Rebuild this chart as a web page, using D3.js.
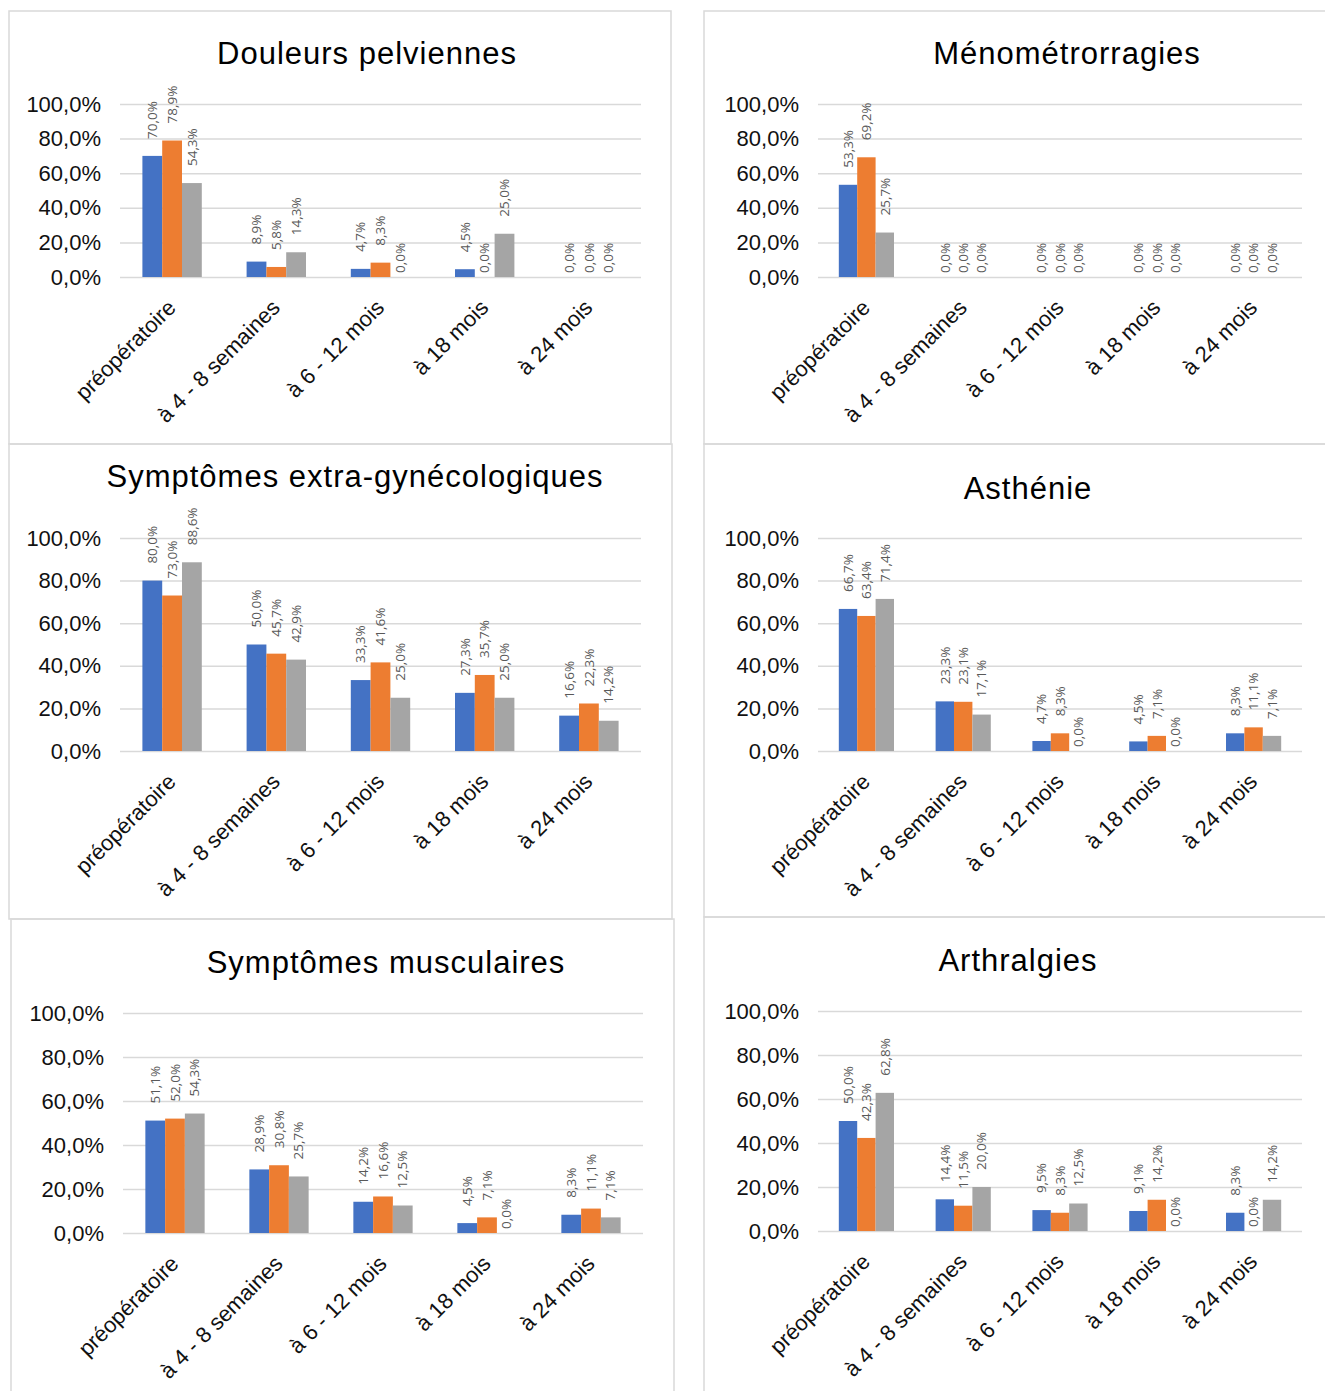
<!DOCTYPE html>
<html>
<head>
<meta charset="utf-8">
<script src="https://cdn.jsdelivr.net/npm/d3@7"></script>
<style>
  body { margin: 0; background: #fff; }
  svg { display: block; }
</style>
</head>
<body>
<div class="chart"></div>
<script>
"use strict";
(function(){

var categories = ["préopératoire", "à 4 - 8 semaines", "à 6 - 12 mois", "à 18 mois", "à 24 mois"];
var yTickValues = [0, 20, 40, 60, 80, 100];
var seriesColors = ["#4472c4", "#ed7d31", "#a5a5a5"];

var titles = [
  "Douleurs pelviennes",
  "Ménométrorragies",
  "Symptômes extra-gynécologiques",
  "Asthénie",
  "Symptômes musculaires",
  "Arthralgies"
];

// three series per chart, one value per category (%)
var douleursPelviennes = [
  [70.0, 8.9, 4.7, 4.5, 0.0],
  [78.9, 5.8, 8.3, 0.0, 0.0],
  [54.3, 14.3, 0.0, 25.0, 0.0]
];
var menometrorragies = [
  [53.3, 0.0, 0.0, 0.0, 0.0],
  [69.2, 0.0, 0.0, 0.0, 0.0],
  [25.7, 0.0, 0.0, 0.0, 0.0]
];
var extraGyneco = [
  [80.0, 50.0, 33.3, 27.3, 16.6],
  [73.0, 45.7, 41.6, 35.7, 22.3],
  [88.6, 42.9, 25.0, 25.0, 14.2]
];
var asthenie = [
  [66.7, 23.3, 4.7, 4.5, 8.3],
  [63.4, 23.1, 8.3, 7.1, 11.1],
  [71.4, 17.1, 0.0, 0.0, 7.1]
];
var musculaires = [
  [51.1, 28.9, 14.2, 4.5, 8.3],
  [52.0, 30.8, 16.6, 7.1, 11.1],
  [54.3, 25.7, 12.5, 0.0, 7.1]
];
var arthralgies = [
  [50.0, 14.4, 9.5, 9.1, 8.3],
  [42.3, 11.5, 8.3, 14.2, 0.0],
  [62.8, 20.0, 12.5, 0.0, 14.2]
];

var panelValues = [douleursPelviennes, menometrorragies, extraGyneco, asthenie, musculaires, arthralgies];

// frame [x0,y0,x1,y1], plot [left,right,top,bottom], title [cx, baseline]
var layout = [
  {frame: [9, 11, 671, 444],    plot: [120, 641, 104, 277],   title: [367, 64]},
  {frame: [704, 11, 1340, 444], plot: [818, 1302, 104, 277],  title: [1067, 64]},
  {frame: [9, 444, 672, 919],   plot: [120, 641, 538, 751],   title: [355, 487]},
  {frame: [704, 444, 1340, 917],plot: [818, 1302, 538, 751],  title: [1028, 499]},
  {frame: [11, 919, 674, 1400], plot: [123, 643, 1013, 1233], title: [386, 973]},
  {frame: [704, 917, 1340, 1400],plot: [818, 1302, 1011, 1231],title: [1018, 971]}
];

var width = 1325;
var height = 1391;

var svg = d3.select('.chart')
            .append('svg')
            .attr('width', width)
            .attr('height', height);

svg.append('rect').attr('width', width).attr('height', height).attr('fill', '#fff');

function pct(v){
  return d3.format('.1f')(v).replace('.', ',') + '%';
}

function drawPanel(cfg, title, values){
  var g = svg.append('g');
  var f = cfg.frame, p = cfg.plot;

  g.append('rect')
   .attr('x', f[0]).attr('y', f[1])
   .attr('width', f[2] - f[0]).attr('height', f[3] - f[1])
   .attr('fill', 'none')
   .attr('stroke', '#d9d9d9')
   .attr('stroke-width', 1.5);

  g.append('text')
   .attr('x', cfg.title[0]).attr('y', cfg.title[1])
   .attr('text-anchor', 'middle')
   .attr('font-family', 'Liberation Sans, Arial, sans-serif')
   .attr('font-size', 31)
   .attr('letter-spacing', '1px')
   .attr('fill', '#000')
   .text(title);

  var x = d3.scaleBand().domain(categories).range([p[0], p[1]])
            .paddingInner(0.43).paddingOuter(0.215);
  var xs = d3.scaleBand().domain(d3.range(values.length)).range([0, x.bandwidth()]);
  var y = d3.scaleLinear().domain([0, 100]).range([p[3], p[2]]);

  // y axis + gridlines
  var yAxis = g.append('g')
    .attr('transform', 'translate(' + p[0] + ',0)')
    .call(d3.axisLeft(y).tickValues(yTickValues)
            .tickSize(-(p[1] - p[0])).tickPadding(19)
            .tickFormat(function(d){ return d3.format('.1f')(d).replace('.', ',') + '%'; }));
  yAxis.select('.domain').remove();
  yAxis.selectAll('.tick line').attr('stroke', '#d9d9d9').attr('stroke-width', 1.5);
  yAxis.selectAll('.tick text')
       .attr('font-family', 'Liberation Sans, Arial, sans-serif')
       .attr('font-size', 22)
       .attr('fill', '#111');

  // x axis labels
  var xAxis = g.append('g')
    .attr('transform', 'translate(0,' + p[3] + ')')
    .call(d3.axisBottom(x).tickSize(0));
  xAxis.select('.domain').remove();
  xAxis.selectAll('.tick text')
       .attr('x', 0).attr('y', 0).attr('dy', 0)
       .attr('text-anchor', 'end')
       .attr('transform', 'translate(5,32) rotate(-45)')
       .attr('font-family', 'Liberation Sans, Arial, sans-serif')
       .attr('font-size', 22)
       .attr('fill', '#111');

  var flat = [];
  values.forEach(function(series, s){
    series.forEach(function(v, i){
      flat.push({s: s, cat: categories[i], v: v});
    });
  });

  g.selectAll('.bar')
   .data(flat)
   .enter().append('rect')
   .attr('class', 'bar')
   .attr('x', function(d){ return x(d.cat) + xs(d.s); })
   .attr('width', xs.bandwidth())
   .attr('y', function(d){ return y(d.v); })
   .attr('height', function(d){ return y(0) - y(d.v); })
   .attr('fill', function(d){ return seriesColors[d.s]; });

  g.selectAll('.lbl')
   .data(flat)
   .enter().append('text')
   .attr('class', 'lbl')
   .attr('transform', function(d){
     var cx = x(d.cat) + xs(d.s) + xs.bandwidth() / 2;
     var gap = d.v > 0 ? 17 : 4;
     return 'translate(' + cx + ',' + (y(d.v) - gap) + ') rotate(-90)';
   })
   .attr('dy', '0.35em')
   .attr('text-anchor', 'start')
   .attr('font-family', 'Open Sans, DejaVu Sans, sans-serif')
   .attr('font-size', 13.5)
   .attr('fill', '#595959')
   .text(function(d){ return pct(d.v); });
}

layout.forEach(function(cfg, k){
  drawPanel(cfg, titles[k], panelValues[k]);
});

})();
</script>
</body>
</html>
